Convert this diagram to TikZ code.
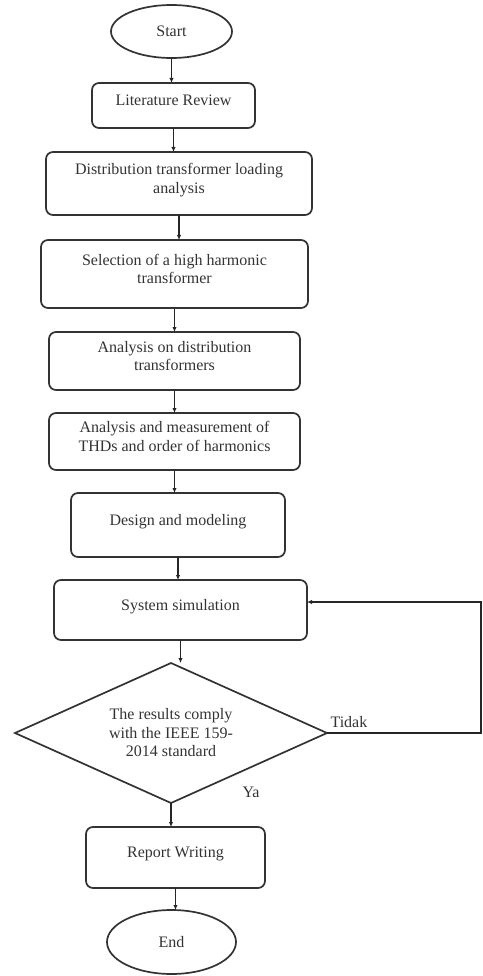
\documentclass[tikz,border=0pt]{standalone}
\usepackage{fontspec}
\setmainfont{Liberation Serif}
\usetikzlibrary{positioning,arrows.meta,shapes.geometric}

\begin{document}
\begin{tikzpicture}[
  x=1pt, y=1pt,
  every node/.style = {font=\fontsize{16}{18.5}\selectfont, text=black!80},
  proc/.style   = {draw=black!80, line width=1.7pt, rounded corners=7pt,
                   align=center, inner sep=2pt, outer sep=0pt, text depth=10pt},
  term/.style   = {draw=black!80, line width=1.7pt, ellipse, inner sep=0pt, outer sep=0pt},
  decide/.style = {draw=black!80, line width=1.7pt, diamond, aspect=2.2,
                   inner sep=0pt, outer sep=0pt, align=center,
                   minimum width=312pt, minimum height=140pt},
  arr/.style    = {-{Latex[length=5pt,width=4.5pt]}, line width=1.2pt, black!85},
]
\useasboundingbox (0,0) rectangle (482,-976);

% ---- main column (top -> bottom) ----
\node[term, minimum width=121pt, minimum height=53pt] (start) at (171.5,-31.5) {Start};
\node[proc, minimum width=163pt, minimum height=45pt, below=25pt of start, xshift=2pt] (lit) {Literature Review};
\node[proc, minimum width=266pt, minimum height=63pt, below=24pt of lit, xshift=5.5pt] (load) {Distribution transformer loading\\ analysis};
\node[proc, minimum width=267pt, minimum height=68pt, below=25pt of load, xshift=-4.5pt] (sel) {Selection of a high harmonic\\ transformer};
\node[proc, minimum width=251pt, minimum height=58pt, below=24pt of sel] (ana) {Analysis on distribution\\ transformers};
\node[proc, minimum width=251pt, minimum height=57pt, below=23pt of ana] (thd) {Analysis and measurement of\\ THDs and order of harmonics};
\node[proc, minimum width=214pt, minimum height=64pt, below=23pt of thd, xshift=3.5pt] (design) {Design and modeling};
\node[proc, minimum width=253pt, minimum height=60pt, below=23pt of design, xshift=2.5pt] (sim) {System simulation};
\node[decide, below=23pt of sim, xshift=-9.5pt] (comply) {The results comply\\ with the IEEE 159-\\ 2014 standard};
\node[proc, minimum width=179pt, minimum height=61pt, below=24pt of comply, xshift=4.5pt] (report) {Report Writing};
\node[term, minimum width=129pt, minimum height=64pt, below=22pt of report, xshift=-4pt] (finish) {End};

% ---- decision labels ----
\node[above right=2pt and 0pt of comply.east] (no) {Tidak};
\node[above right=2pt and 68pt of comply.south] (yes) {Ya};

% ---- edges ----
\draw[arr] (start.south)  -- (start.south |- lit.north);
\draw[arr] (lit.south)    -- (lit.south |- load.north);
\draw[arr] (load.south)   -- (load.south |- sel.north);
\draw[arr] (sel.south)    -- (sel.south |- ana.north);
\draw[arr] (ana.south)    -- (ana.south |- thd.north);
\draw[arr] (thd.south)    -- (thd.south |- design.north);
\draw[arr] (design.south) -- (design.south |- sim.north);
\draw[arr] (sim.south)    -- (sim.south |- comply.north);
\draw[arr] (comply.south) -- (comply.south |- report.north);
\draw[arr] (report.south) -- (report.south |- finish.north);

% ---- loop back (Tidak) ----
\coordinate[right=154pt of comply.east] (back);
\draw[arr] (comply.east) -- (back) |- ([yshift=8pt]sim.east);

\end{tikzpicture}
\end{document}
